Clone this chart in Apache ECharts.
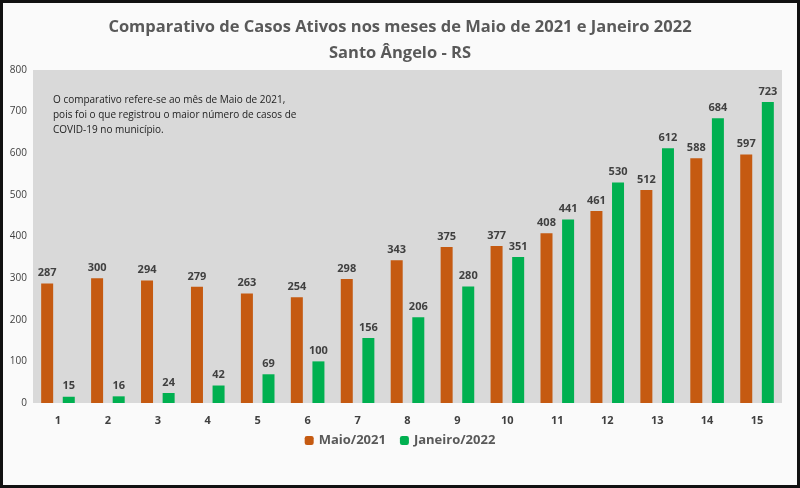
<!DOCTYPE html>
<html>
<head>
<meta charset="UTF-8">
<style>
  body { margin: 0; background: #fff; }
  #main { width: 800px; height: 488px; box-sizing: border-box; border: 3px solid #111; }
</style>
</head>
<body>
<div id="main"></div>
<script src="https://cdn.jsdelivr.net/npm/echarts/dist/echarts.min.js"></script>
<script>
  var days = ['1', '2', '3', '4', '5', '6', '7', '8', '9', '10', '11', '12', '13', '14', '15'];
  var maio2021 = [287, 300, 294, 279, 263, 254, 298, 343, 375, 377, 408, 461, 512, 588, 597];
  var janeiro2022 = [15, 16, 24, 42, 69, 100, 156, 206, 280, 351, 441, 530, 612, 684, 723];

  var chart = echarts.init(document.getElementById('main'));
  var labelStyle = { show: true, position: 'top', fontFamily: 'Open Sans', fontSize: 11, fontWeight: 'bold', color: '#404040' };

  chart.setOption({
    backgroundColor: '#fafafa',
    title: {
      text: 'Comparativo de Casos Ativos nos meses de Maio de 2021 e Janeiro 2022\nSanto Ângelo - RS',
      left: 'center', top: 6,
      textStyle: { fontFamily: 'Open Sans', fontSize: 16.5, fontWeight: 'bold', color: '#595959', lineHeight: 26 }
    },
    graphic: [{
      type: 'text', left: 50, top: 90,
      style: {
        text: 'O comparativo refere-se ao mês de Maio de 2021,\npois foi o que registrou o maior número de casos de\nCOVID-19 no município.',
        font: '10px "Open Sans"', fill: '#222', lineHeight: 15
      }
    }],
    legend: {
      bottom: 33, itemWidth: 9, itemHeight: 9, itemGap: 14,
      textStyle: { fontFamily: 'Open Sans', fontSize: 13, fontWeight: 'bold', color: '#595959' },
      data: ['Maio/2021', 'Janeiro/2022']
    },
    grid: { left: 30, right: 15, top: 67, bottom: 82, show: true, backgroundColor: '#d9d9d9', borderWidth: 0 },
    xAxis: {
      type: 'category', data: days,
      axisLine: { show: false }, axisTick: { show: false },
      axisLabel: { fontFamily: 'Open Sans', fontSize: 11, fontWeight: 'bold', color: '#404040', margin: 12 }
    },
    yAxis: {
      type: 'value', min: 0, max: 800, interval: 100,
      splitLine: { show: false },
      axisLabel: { fontFamily: 'Open Sans', fontSize: 10, color: '#404040', margin: 6 }
    },
    series: [
      { name: 'Maio/2021', type: 'bar', data: maio2021, barWidth: 12, barGap: '80%', itemStyle: { color: '#c55a11' }, label: labelStyle },
      { name: 'Janeiro/2022', type: 'bar', data: janeiro2022, barWidth: 12, itemStyle: { color: '#00b050' }, label: labelStyle }
    ]
  });
</script>
</body>
</html>
